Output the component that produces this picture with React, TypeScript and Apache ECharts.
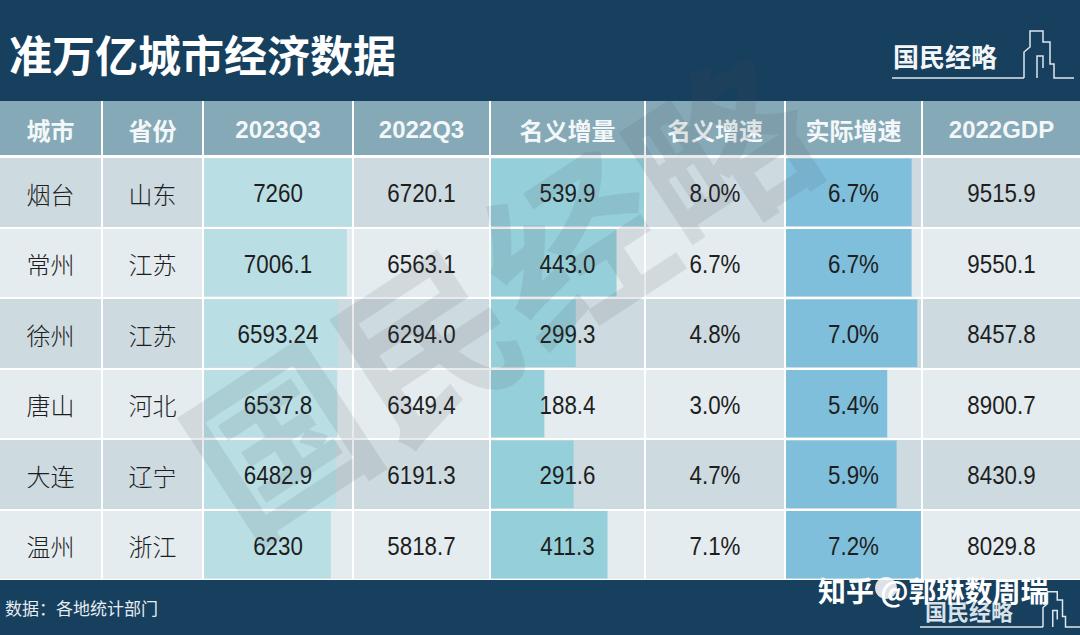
import React, { useEffect, useRef } from "react";
import * as echarts from "echarts";

const headers = ["城市", "省份", "2023Q3", "2022Q3", "名义增量", "名义增速", "实际增速", "2022GDP"];
const cities = ["烟台", "常州", "徐州", "唐山", "大连", "温州"];
const provinces = ["山东", "江苏", "江苏", "河北", "辽宁", "浙江"];
const gdp2023Q3 = [7260, 7006.1, 6593.24, 6537.8, 6482.9, 6230];
const gdp2022Q3 = [6720.1, 6563.1, 6294.0, 6349.4, 6191.3, 5818.7];
const nominalIncrease = [539.9, 443.0, 299.3, 188.4, 291.6, 411.3];
const nominalGrowth = [8.0, 6.7, 4.8, 3.0, 4.7, 7.1];
const realGrowth = [6.7, 6.7, 7.0, 5.4, 5.9, 7.2];
const gdp2022 = [9515.9, 9550.1, 8457.8, 8900.7, 8430.9, 8029.8];

const TITLE = "准万亿城市经济数据";
const SOURCE = "数据：各地统计部门";
const BRAND = "国民经略";
const ZHIHU = "知乎 @郭琳数周瑞";

const NAVY = "#173F5E";
const HEAD = "#85A9B6";
const ROW_DARK = "#CDDAE0";
const ROW_LIGHT = "#E5ECEF";
const NUM_FONT = "'Liberation Sans', Arial, sans-serif";
const CJK_FONT = "'Noto Sans CJK SC', sans-serif";

const colEdges = [0, 102, 203, 353, 490, 645, 785, 922, 1080];
const TABLE_TOP = 157;
const TABLE_BOTTOM = 580;

type Col = { texts: string[]; values?: number[]; bar?: string; cjk?: boolean };

const columns: Col[] = [
  { texts: cities, cjk: true },
  { texts: provinces, cjk: true },
  { texts: gdp2023Q3.map((v) => String(v)), values: gdp2023Q3, bar: "#B9DFE5" },
  { texts: gdp2022Q3.map((v) => v.toFixed(1)) },
  { texts: nominalIncrease.map((v) => v.toFixed(1)), values: nominalIncrease, bar: "#95D0DA" },
  { texts: nominalGrowth.map((v) => v.toFixed(1) + "%") },
  { texts: realGrowth.map((v) => v.toFixed(1) + "%"), values: realGrowth, bar: "#7FBFDC" },
  { texts: gdp2022.map((v) => v.toFixed(1)) },
];

function skyline(x0: number, y0: number, s: number) {
  const pts = [
    [0, 0], [0, -26], [6, -31], [6, -47], [19, -47], [19, -36], [26, -36], [26, -14], [30, -14], [30, 0], [50, 0],
  ];
  const inner = [[13, 0], [13, -22], [19, -22], [19, -10]];
  return [
    { type: "polyline", shape: { points: pts.map(([x, y]) => [x0 + x * s, y0 + y * s]) }, style: { stroke: "#DDE8EE", lineWidth: 1.5, fill: null }, z: 20 },
    { type: "polyline", shape: { points: inner.map(([x, y]) => [x0 + x * s, y0 + y * s]) }, style: { stroke: "#DDE8EE", lineWidth: 1.5, fill: null }, z: 20 },
  ];
}

export default function App() {
  const ref = useRef<HTMLDivElement>(null);
  useEffect(() => {
    document.body.style.margin = "0";
    if (!ref.current) return;
    const chart = echarts.init(ref.current, undefined, { renderer: "svg" });

    const grids: any[] = [];
    const xAxes: any[] = [];
    const yAxes: any[] = [];
    const series: any[] = [];

    columns.forEach((col, i) => {
      const left = colEdges[i] + (i === 0 ? 0 : 1);
      const right = colEdges[i + 1] - (i === columns.length - 1 ? 0 : 1);
      grids.push({ left, width: right - left, top: TABLE_TOP, height: TABLE_BOTTOM - TABLE_TOP });
      const max = col.values ? Math.max(...col.values) : 1;
      xAxes.push({ type: "value", gridIndex: i, min: 0, max, show: false });
      yAxes.push({
        type: "category",
        gridIndex: i,
        data: cities,
        inverse: true,
        axisLine: { show: false },
        axisTick: { show: false },
        axisLabel: { show: false },
        splitLine: { show: true, lineStyle: { color: "#FFFFFF", width: 2 } },
        splitArea: { show: true, areaStyle: { color: [ROW_DARK, ROW_LIGHT] } },
      });
      if (col.values) {
        series.push({
          type: "bar",
          xAxisIndex: i,
          yAxisIndex: i,
          data: col.values,
          barCategoryGap: "4%",
          itemStyle: { color: col.bar },
          silent: true,
        });
      }
      const texts = col.texts;
      series.push({
        type: "custom",
        xAxisIndex: i,
        yAxisIndex: i,
        z: 5,
        silent: true,
        data: texts.map((_, r) => [max / 2, r]),
        renderItem: (params: any, api: any) => {
          const c = api.coord([api.value(0), api.value(1)]);
          return {
            type: "text",
            x: c[0],
            y: c[1] + 1,
            scaleX: col.cjk ? 1 : 0.86,
            style: {
              text: texts[params.dataIndex],
              fill: "#1E1E1E",
              font: col.cjk ? `300 24px ${CJK_FONT}` : `26px ${NUM_FONT}`,
              align: "center",
              verticalAlign: "middle",
            },
          };
        },
      });
    });

    const headerEls: any[] = [];
    headers.forEach((h, i) => {
      const left = colEdges[i] + (i === 0 ? 0 : 1);
      const right = colEdges[i + 1] - (i === headers.length - 1 ? 0 : 1);
      headerEls.push({ type: "rect", shape: { x: left, y: 101, width: right - left, height: 54 }, style: { fill: HEAD }, z: 10 });
      headerEls.push({
        type: "text",
        x: (left + right) / 2,
        y: 129,
        style: {
          text: h,
          fill: "#F3F7F9",
          font: `bold 24px ${/^\d/.test(h) ? NUM_FONT : CJK_FONT}`,
          align: "center",
          verticalAlign: "middle",
        },
        z: 11,
      });
    });

    const graphic: any[] = [
      { type: "rect", shape: { x: 0, y: 0, width: 1080, height: 101 }, style: { fill: NAVY }, z: 10 },
      { type: "rect", shape: { x: 0, y: 155, width: 1080, height: 2 }, style: { fill: "#FFFFFF" }, z: 10 },
      {
        type: "text", x: 9, y: 53,
        style: { text: TITLE, fill: "#FFFFFF", font: `bold 43px ${CJK_FONT}`, align: "left", verticalAlign: "middle" },
        z: 11,
      },
      {
        type: "text", x: 893, y: 55,
        style: { text: BRAND, fill: "#F2F6F8", font: `bold 26px ${CJK_FONT}`, align: "left", verticalAlign: "middle", letterSpacing: 8 },
        z: 11,
      },
      { type: "line", shape: { x1: 892, y1: 78, x2: 1024, y2: 78 }, style: { stroke: "#DDE8EE", lineWidth: 1.5 }, z: 20 },
      ...skyline(1024, 78, 1),
      ...headerEls,
      { type: "rect", shape: { x: 0, y: 580, width: 1080, height: 55 }, style: { fill: NAVY }, z: 10 },
      {
        type: "text", x: 5, y: 607,
        style: { text: SOURCE, fill: "#E6EDF1", font: `17px ${CJK_FONT}`, align: "left", verticalAlign: "middle" },
        z: 11,
      },
      {
        type: "text", x: 925, y: 610,
        style: { text: BRAND, fill: "#D8E2E8", font: `bold 22px ${CJK_FONT}`, align: "left", verticalAlign: "middle", letterSpacing: 5 },
        z: 11,
      },
      { type: "line", shape: { x1: 920, y1: 627, x2: 1043, y2: 627 }, style: { stroke: "#DDE8EE", lineWidth: 1.5 }, z: 20 },
      ...skyline(1043, 627, 0.75),
      { type: "circle", shape: { cx: 886, cy: 588, r: 11 }, style: { fill: "rgba(255,255,255,0.85)" }, z: 21 },
      {
        type: "text", x: 818, y: 590,
        style: {
          text: ZHIHU, fill: "#FFFFFF", font: `bold 28px ${CJK_FONT}`, align: "left", verticalAlign: "middle",
          shadowColor: "rgba(0,0,0,0.5)", shadowBlur: 3, shadowOffsetX: 1, shadowOffsetY: 1,
        },
        z: 22,
      },
      {
        type: "text", x: 496, y: 288, rotation: 0.58,
        style: {
          text: BRAND, fill: "rgba(70,80,90,0.12)", font: `bold 176px ${CJK_FONT}`,
          align: "center", verticalAlign: "middle", letterSpacing: 22,
        },
        z: 30,
        silent: true,
      },
    ];

    chart.setOption({
      animation: false,
      backgroundColor: "#FFFFFF",
      grid: grids,
      xAxis: xAxes,
      yAxis: yAxes,
      series,
      graphic,
    });
    return () => chart.dispose();
  }, []);
  return <div ref={ref} style={{ width: 1080, height: 635 }} />;
}
